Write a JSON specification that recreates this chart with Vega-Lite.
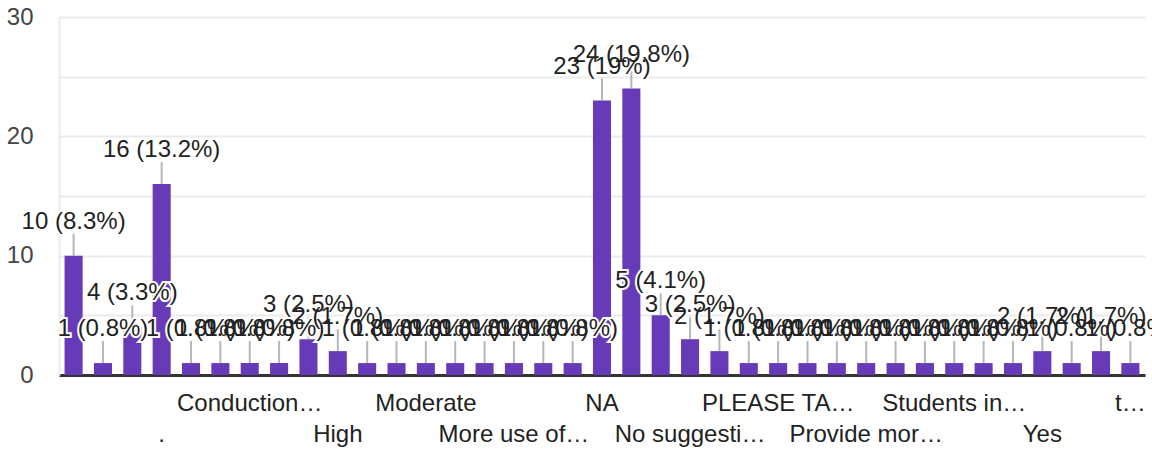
{
  "$schema": "https://vega.github.io/schema/vega-lite/v6.json",
  "width": 1086,
  "height": 358,
  "autosize": "none",
  "padding": {"left": 59, "top": 17, "right": 7, "bottom": 80},
  "background": "white",
  "config": {"view": {"stroke": null}, "font": "Liberation Sans"},
  "data": {"values": [
    {"answer": " ", "count": 10},
    {"answer": "r02", "count": 1},
    {"answer": "r03", "count": 4},
    {"answer": ".", "count": 16},
    {"answer": "r05", "count": 1},
    {"answer": "r06", "count": 1},
    {"answer": "Conduction…", "count": 1},
    {"answer": "r08", "count": 1},
    {"answer": "r09", "count": 3},
    {"answer": "High", "count": 2},
    {"answer": "r11", "count": 1},
    {"answer": "r12", "count": 1},
    {"answer": "Moderate", "count": 1},
    {"answer": "r14", "count": 1},
    {"answer": "r15", "count": 1},
    {"answer": "More use of…", "count": 1},
    {"answer": "r17", "count": 1},
    {"answer": "r18", "count": 1},
    {"answer": "NA", "count": 23},
    {"answer": "r20", "count": 24},
    {"answer": "r21", "count": 5},
    {"answer": "No suggesti…", "count": 3},
    {"answer": "r23", "count": 2},
    {"answer": "r24", "count": 1},
    {"answer": "PLEASE TA…", "count": 1},
    {"answer": "r26", "count": 1},
    {"answer": "r27", "count": 1},
    {"answer": "Provide mor…", "count": 1},
    {"answer": "r29", "count": 1},
    {"answer": "r30", "count": 1},
    {"answer": "Students in…", "count": 1},
    {"answer": "r32", "count": 1},
    {"answer": "r33", "count": 1},
    {"answer": "Yes", "count": 2},
    {"answer": "r35", "count": 1},
    {"answer": "r36", "count": 2},
    {"answer": "t…", "count": 1}
  ]},
  "transform": [
    {"joinaggregate": [{"op": "sum", "field": "count", "as": "total"}]},
    {"calculate": "datum.count + ' (' + format(datum.count / datum.total, '.1~%') + ')'", "as": "label"}
  ],
  "encoding": {
    "x": {
      "field": "answer", "type": "nominal", "sort": null,
      "scale": {"paddingInner": 0.385, "paddingOuter": 0.19},
      "axis": {
        "title": null, "labelAngle": 0, "labelOverlap": false, "ticks": false,
        "domainColor": "#333333", "domainWidth": 3,
        "labelFont": "Liberation Sans", "labelFontSize": 24, "labelColor": "#222222",
        "labelPadding": 16, "labelLineHeight": 31, "labelBaseline": "top", "labelLimit": 0,
        "labelExpr": "indexof(['.', 'High', 'More use of…', 'No suggesti…', 'Provide mor…', 'Yes'], datum.label) >= 0 ? ['', datum.label] : (indexof(['Conduction…', 'Moderate', 'NA', 'PLEASE TA…', 'Students in…', 't…'], datum.label) >= 0 ? datum.label : '')"
      }
    },
    "y": {
      "field": "count", "type": "quantitative",
      "scale": {"domain": [0, 30], "nice": false},
      "axis": {
        "title": null, "values": [0, 5, 10, 15, 20, 25, 30],
        "labelExpr": "datum.value % 10 == 0 ? datum.label : ''",
        "grid": true, "gridColor": "#ebebeb", "gridWidth": 2,
        "ticks": false, "domainColor": "#ebebeb", "domainWidth": 2,
        "labelFont": "Liberation Sans", "labelFontSize": 24, "labelColor": "#444444",
        "labelPadding": 26
      }
    }
  },
  "layer": [
    {"mark": {"type": "bar", "color": "#673ab7"}},
    {"mark": {"type": "tick", "orient": "vertical", "color": "#999999", "thickness": 2, "size": 22, "yOffset": -11}},
    {"mark": {"type": "text", "font": "Liberation Sans", "fontSize": 24, "baseline": "middle", "dy": -34, "stroke": "white", "strokeWidth": 4, "fill": "white"},
     "encoding": {"text": {"field": "label"}}},
    {"mark": {"type": "text", "font": "Liberation Sans", "fontSize": 24, "baseline": "middle", "dy": -34, "color": "#222222"},
     "encoding": {"text": {"field": "label"}}}
  ]
}
